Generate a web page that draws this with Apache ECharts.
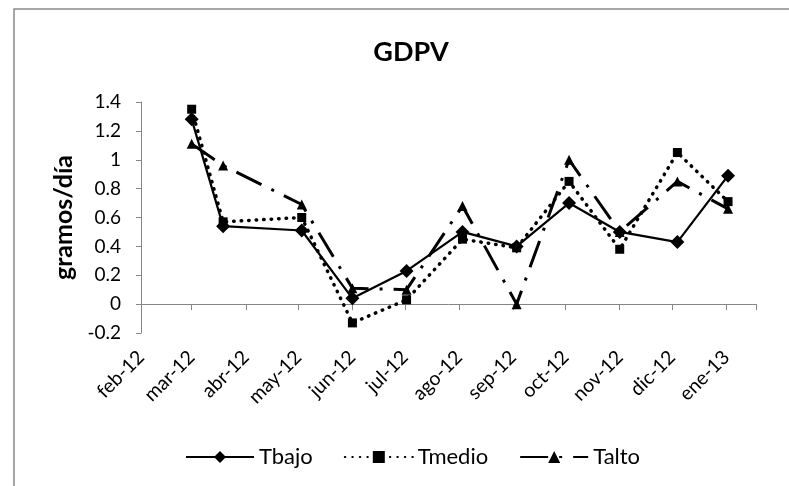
<!DOCTYPE html>
<html><head><meta charset="utf-8">
<script src="https://cdn.jsdelivr.net/npm/echarts@6/dist/echarts.min.js"></script>
<style>html,body{margin:0;padding:0;background:#fff}#c{width:789px;height:486px}</style>
</head><body><div id="c"></div>
<script>
// Sampling dates (date axis)
const dates = ['2012-03-01','2012-03-19','2012-05-03','2012-06-01','2012-07-02','2012-08-03','2012-09-03','2012-10-03','2012-11-01','2012-12-04','2013-01-02'];
const tbajo  = [1.28, 0.54, 0.51, 0.04, 0.23, 0.50, 0.40, 0.70, 0.50, 0.43, 0.89];
const tmedio = [1.35, 0.57, 0.60, -0.13, 0.03, 0.45, 0.39, 0.85, 0.38, 1.05, 0.71];
const talto  = [1.11, 0.96, 0.69, 0.11, 0.10, 0.68, 0.00, 1.00, 0.50, 0.85, 0.66];
const seriesNames = ['Tbajo', 'Tmedio', 'Talto'];
const monthLabels = ['ene','feb','mar','abr','may','jun','jul','ago','sep','oct','nov','dic'];
const xMin = '2012-02-01';
const xMax = '2013-01-18';
const yMin = -0.2, yMax = 1.4, yStep = 0.2;

function toTs(s){ const p = s.split('-').map(Number); return new Date(p[0], p[1]-1, p[2]).getTime(); }
function pairs(vals){ return dates.map((d,i)=>[toTs(d), vals[i]]); }
function monthFmt(v){
  const d = new Date(v);
  if (d.getDate() !== 1 || d.getHours() !== 0) return '';
  return monthLabels[d.getMonth()] + '-' + String(d.getFullYear()).slice(2);
}
const FONT = 'Lato';
const AX = '#868686';
const chart = echarts.init(document.getElementById('c'), null, {renderer:'canvas'});
chart.setOption({
  animation: false,
  backgroundColor: '#fff',
  graphic: [{type:'rect', silent:true, z:-1, shape:{x:14, y:9, width:800, height:500}, style:{fill:'none', stroke:'#8a8a8a', lineWidth:1.5}}],
  title: {text:'GDPV', left:406, textAlign:'center', top:34, textStyle:{fontFamily:FONT, fontWeight:'bold', fontSize:27, color:'#000'}},
  legend: {left:180, top:441, itemWidth:68, itemHeight:15, itemGap:31, data:seriesNames,
    textStyle:{fontFamily:FONT, fontSize:22, color:'#000'}},
  grid: {left:141, right:33, top:102, bottom:153},
  xAxis: [
    {type:'time', min:toTs(xMin), max:toTs(xMax), position:'bottom', minInterval:28*86400000, maxInterval:31*86400000, splitNumber:12,
     axisLine:{show:false, onZero:false}, axisTick:{show:false}, splitLine:{show:false},
     axisLabel:{rotate:45, margin:21, fontFamily:FONT, fontSize:19.5, color:'#000', formatter:monthFmt, showMaxLabel:false}},
    {type:'time', min:toTs(xMin), max:toTs(xMax), position:'bottom', minInterval:28*86400000, maxInterval:31*86400000, splitNumber:12,
     axisLine:{show:true, onZero:true, lineStyle:{color:AX, width:1}}, axisTick:{show:true, length:6, lineStyle:{color:AX}},
     axisLabel:{show:false}, splitLine:{show:false}}
  ],
  yAxis: {type:'value', min:yMin, max:yMax, interval:yStep,
    name:'gramos/día', nameLocation:'middle', nameGap:55,
    nameTextStyle:{fontFamily:FONT, fontWeight:'bold', fontSize:25, color:'#000'},
    axisLine:{show:true, lineStyle:{color:AX, width:1}}, axisTick:{show:true, length:5, lineStyle:{color:AX}},
    splitLine:{show:false},
    axisLabel:{margin:20, fontFamily:FONT, fontSize:19, color:'#000'}},
  series: [
    {name:seriesNames[0], type:'line', xAxisIndex:0, data:pairs(tbajo), symbol:'diamond', symbolSize:14,
     lineStyle:{color:'#000', width:2.2}, itemStyle:{color:'#000'}},
    {name:seriesNames[1], type:'line', xAxisIndex:0, data:pairs(tmedio), symbol:'rect', symbolSize:9,
     lineStyle:{color:'#000', width:3.5, type:[0.5,7], cap:'round'}, itemStyle:{color:'#000'}},
    {name:seriesNames[2], type:'line', xAxisIndex:0, data:pairs(talto), symbol:'triangle', symbolSize:10,
     lineStyle:{color:'#000', width:3, type:[28,11,3,11]}, itemStyle:{color:'#000'}}
  ]
});
</script></body></html>
